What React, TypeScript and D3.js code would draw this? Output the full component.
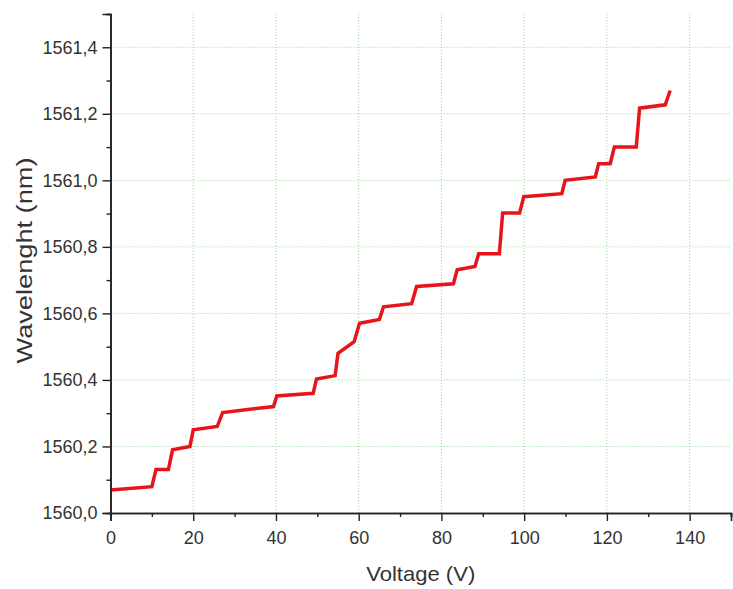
import React, { useEffect, useRef } from 'react';
import * as d3 from 'd3';

// values
const voltage = [0, 10, 11, 14, 15, 19.2, 20, 25.8, 27.1, 39.4, 40.2, 49, 49.8, 54.3, 55, 58.9, 60.2, 65, 66, 72.8, 74, 82.9, 83.8, 88.1, 89, 94, 94.8, 98.9, 99.9, 109.1, 109.9, 117.2, 118, 120.8, 121.8, 127.1, 127.9, 134.1, 135.3];
const wavelength = [1560.069, 1560.079, 1560.131, 1560.131, 1560.19, 1560.2, 1560.25, 1560.26, 1560.302, 1560.32, 1560.352, 1560.36, 1560.403, 1560.413, 1560.48, 1560.515, 1560.57, 1560.582, 1560.62, 1560.629, 1560.681, 1560.689, 1560.731, 1560.741, 1560.779, 1560.779, 1560.902, 1560.902, 1560.951, 1560.96, 1561.0, 1561.01, 1561.05, 1561.05, 1561.1, 1561.1, 1561.217, 1561.227, 1561.27];

const xTicks = [0, 20, 40, 60, 80, 100, 120, 140];
const xMinor = [10, 30, 50, 70, 90, 110, 130, 150];
const yTicks = [1560.0, 1560.2, 1560.4, 1560.6, 1560.8, 1561.0, 1561.2, 1561.4];
const yMinor = [1560.1, 1560.3, 1560.5, 1560.7, 1560.9, 1561.1, 1561.3, 1561.5];

const width = 733;
const height = 589;
const margin = { top: 14, right: 2, bottom: 76, left: 110.5 };

export default function App() {
  const ref = useRef<SVGSVGElement>(null);

  useEffect(() => {
    const svg = d3.select(ref.current);
    svg.selectAll('*').remove();

    const x = d3.scaleLinear().domain([0, 150]).range([margin.left, width - margin.right]);
    const y = d3.scaleLinear().domain([1560.0, 1561.5]).range([height - margin.bottom, margin.top]);
    const font = "'Liberation Sans', Arial, sans-serif";
    const fmt = (d: number) => d.toFixed(1).replace('.', ',');

    // grid
    const grid = svg.append('g')
      .attr('stroke', '#93d893')
      .attr('stroke-width', 1)
      .attr('stroke-dasharray', '1,2');
    grid.selectAll('line.v')
      .data(xTicks.slice(1))
      .enter().append('line')
      .attr('x1', d => x(d)).attr('x2', d => x(d))
      .attr('y1', y(1560.0)).attr('y2', y(1561.5));
    grid.selectAll('line.h')
      .data(yTicks.slice(1))
      .enter().append('line')
      .attr('x1', x(0)).attr('x2', x(150))
      .attr('y1', d => y(d)).attr('y2', d => y(d));

    // data line
    const pts: [number, number][] = voltage.map((v, i) => [v, wavelength[i]]);
    const line = d3.line<[number, number]>().x(d => x(d[0])).y(d => y(d[1]));
    svg.append('path')
      .datum(pts)
      .attr('d', line)
      .attr('fill', 'none')
      .attr('stroke', '#e8141c')
      .attr('stroke-width', 3.5)
      .attr('stroke-linejoin', 'miter');

    // axes
    const xAxis = d3.axisBottom(x).tickValues(xTicks).tickSize(8).tickPadding(10).tickFormat(d => String(d));
    const xMin = d3.axisBottom(x).tickValues(xMinor).tickSize(4).tickFormat(() => '');
    const yAxis = d3.axisLeft(y).tickValues(yTicks).tickSize(8).tickPadding(5).tickFormat(d => fmt(+d));
    const yMin = d3.axisLeft(y).tickValues(yMinor).tickSize(4).tickFormat(() => '');

    const gx = svg.append('g').attr('transform', `translate(0,${y(1560.0)})`).call(xAxis);
    svg.append('g').attr('transform', `translate(0,${y(1560.0)})`).call(xMin);
    const gy = svg.append('g').attr('transform', `translate(${x(0)},0)`).call(yAxis);
    svg.append('g').attr('transform', `translate(${x(0)},0)`).call(yMin);

    svg.selectAll('.domain').attr('stroke', '#222').attr('stroke-width', 1.6);
    svg.selectAll('.tick line').attr('stroke', '#222').attr('stroke-width', 1.4);
    gx.selectAll('text').attr('font-family', font).attr('font-size', 18).attr('fill', '#333');
    gy.selectAll('text').attr('font-family', font).attr('font-size', 18).attr('fill', '#333');

    // titles
    svg.append('text')
      .attr('x', (x(0) + x(150)) / 2)
      .attr('y', 581)
      .attr('text-anchor', 'middle')
      .attr('font-family', font)
      .attr('font-size', 21)
      .attr('fill', '#333')
      .attr('textLength', 109)
      .attr('lengthAdjust', 'spacingAndGlyphs')
      .text('Voltage (V)');

    svg.append('text')
      .attr('transform', `translate(32,${(y(1560.0) + y(1561.5)) / 2 - 3}) rotate(-90)`)
      .attr('text-anchor', 'middle')
      .attr('font-family', font)
      .attr('font-size', 22)
      .attr('fill', '#333')
      .attr('textLength', 206)
      .attr('lengthAdjust', 'spacingAndGlyphs')
      .text('Wavelenght (nm)');
  }, []);

  return (
    <svg ref={ref} width={width} height={height}
      style={{ position: 'absolute', left: 0, top: 0, background: '#fff' }} />
  );
}
